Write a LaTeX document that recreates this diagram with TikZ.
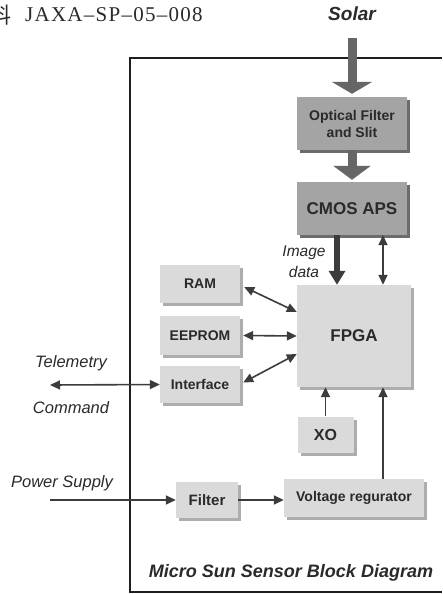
\documentclass[tikz,border=0pt]{standalone}
\usepackage{fontspec}
\setmainfont{Liberation Sans}
\newfontfamily\hdrserif[LetterSpace=6]{Liberation Serif}
\newfontfamily\cjkjp{Noto Sans CJK JP}
\usetikzlibrary{arrows.meta,shadows}
\definecolor{boxlight}{HTML}{DADADA}
\definecolor{boxdark}{HTML}{A4A4A4}
\definecolor{shadlight}{HTML}{ADADAD}
\definecolor{shaddark}{HTML}{6C6C6C}
\definecolor{txt}{HTML}{2A2A2A}
\definecolor{arr}{HTML}{3C3C3C}
\definecolor{bigarr}{HTML}{666666}
\definecolor{framec}{HTML}{1E1E1E}
\tikzset{
  lbox/.style={fill=boxlight, draw=none, inner sep=0pt, align=center, text=txt,
    font=\bfseries\fontsize{14}{17}\selectfont,
    general shadow={fill=shadlight, shadow xshift=3pt, shadow yshift=-3pt}},
  dbox/.style={fill=boxdark, draw=none, inner sep=0pt, align=center, text=txt,
    font=\bfseries\fontsize{14}{17}\selectfont,
    general shadow={fill=shaddark, shadow xshift=3pt, shadow yshift=-3pt}},
  lbl/.style={text=txt, font=\itshape\fontsize{16.5}{18}\selectfont, inner sep=0pt},
  dbl/.style={{Triangle[length=10pt,width=9pt]}-{Triangle[length=10pt,width=9pt]}, line width=1.6pt, draw=arr},
  sarr/.style={-{Triangle[length=10pt,width=9pt]}, line width=1.6pt, draw=arr},
  bigarrow/.style={-{Triangle[length=12pt,width=40pt]}, line width=9pt, draw=bigarr},
  medarrow/.style={-{Triangle[length=14pt,width=16pt]}, line width=6pt, draw=arr},
  frame/.style={draw=framec, line width=2.2pt}
}
\begin{document}
\begin{tikzpicture}[x=1pt,y=-1pt]
\useasboundingbox (0,0) rectangle (442,594);
\fill[white] (0,0) rectangle (442,594);
\begin{scope}
\clip (0,0) rectangle (442,594);
\node[text=txt, font=\cjkjp\fontsize{22}{22}\selectfont, inner sep=0pt] (hdrk) at (1,15) {料};
\end{scope}
\node[text=txt, font=\hdrserif\fontsize{21}{21}\selectfont, inner sep=0pt, anchor=west] (hdr) at (25,15) {JAXA–SP–05–008};

% frame
\draw[frame] (442,58) -- (130,58) -- (130,592) -- (442,592);

% boxes
\node[dbox, minimum width=110pt, minimum height=53pt] (opt) at (352,123.5) {Optical Filter\\and Slit};
\node[dbox, minimum width=110pt, minimum height=53pt, font=\bfseries\fontsize{17}{20}\selectfont] (cmos) at (352,208.5) {CMOS APS};
\node[lbox, minimum width=114pt, minimum height=102pt, font=\bfseries\fontsize{17}{20}\selectfont] (fpga) at (354,336) {FPGA};
\node[lbox, minimum width=80pt, minimum height=38pt] (ram) at (200,284) {RAM};
\node[lbox, minimum width=80pt, minimum height=39pt] (eeprom) at (200,335.5) {EEPROM};
\node[lbox, minimum width=80pt, minimum height=37pt] (iface) at (200,384.5) {Interface};
\node[lbox, minimum width=56pt, minimum height=36pt, font=\bfseries\fontsize{16}{18}\selectfont] (xo) at (325.5,434.5) {XO};
\node[lbox, minimum width=62pt, minimum height=36pt, font=\bfseries\fontsize{15}{18}\selectfont] (filt) at (207,500) {Filter};
\node[lbox, minimum width=140pt, minimum height=38pt] (volt) at (354,498) {Voltage regurator};

% labels
\node[lbl, font=\bfseries\itshape\fontsize{19}{20}\selectfont] (solar) at (352,14) {Solar};
\node[lbl, align=center, font=\itshape\fontsize{15.5}{21}\selectfont] (img) at (304,262) {Image\\data};
\node[lbl] (telem) at (71,363) {Telemetry};
\node[lbl] (cmd) at (71,408) {Command};
\node[lbl] (pwr) at (62,483) {Power Supply};
\node[lbl, font=\bfseries\itshape\fontsize{18}{20}\selectfont] (title) at (291,573) {Micro Sun Sensor Block Diagram};

\coordinate (tmend) at (50,385);
\coordinate (psend) at (50,500);

% connectors
\draw[bigarrow] ([yshift=-24pt]solar.center) -- ([yshift=3pt]opt.north);
\draw[bigarrow, -{Triangle[length=14pt,width=37pt]}] (opt.south) -- ([yshift=2pt]cmos.north);
\draw[medarrow] ([xshift=-15pt]cmos.south) -- ([xshift=-15pt]cmos.south |- fpga.north);
\draw[dbl] ([xshift=31pt]cmos.south) -- ([xshift=31pt]cmos.south |- fpga.north);
\draw[dbl] ([xshift=4pt,yshift=-3pt]ram.east) -- ([yshift=24pt]fpga.west);
\draw[dbl] ([xshift=3pt]eeprom.east) -- (fpga.west);
\draw[dbl] ([xshift=3pt,yshift=2pt]iface.east) -- ([yshift=-18pt]fpga.west);
\draw[dbl] (tmend) -- (iface.west);
\draw[sarr] (psend) -- (filt.west);
\draw[sarr] (filt.east) -- (filt.east -| volt.west);
\draw[sarr] (xo.north) -- (xo.north |- fpga.south);
\draw[sarr] ([xshift=29pt]volt.north) -- ([xshift=29pt]volt.north |- fpga.south);
\end{tikzpicture}
\end{document}
